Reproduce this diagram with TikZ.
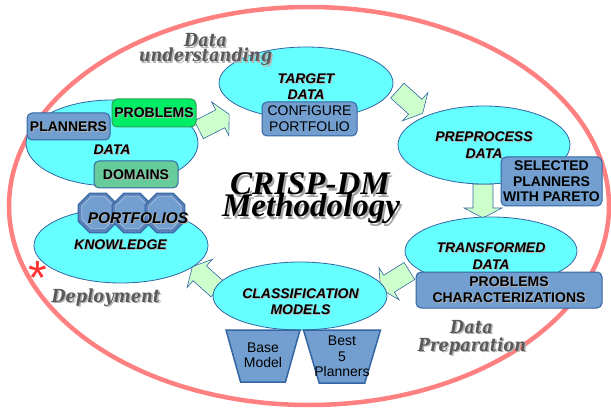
\documentclass[tikz,border=0pt]{standalone}
\usepackage{fontspec}
\setmainfont{Liberation Sans}
\newfontfamily\titlefont{Liberation Serif}
\newfontfamily\phasefont{DejaVu Serif}[FakeStretch=0.9]
\usetikzlibrary{shapes.geometric}

\definecolor{ringred}{HTML}{FF8080}
\definecolor{stagecyan}{HTML}{66FFFF}
\definecolor{edgeblue}{HTML}{3465A4}
\definecolor{boxblue}{HTML}{729FCF}
\definecolor{flowgreen}{HTML}{CCFFCC}
\definecolor{problemgreen}{HTML}{00EE66}
\definecolor{problemedge}{HTML}{2E9E55}
\definecolor{domaingreen}{HTML}{66CC99}
\definecolor{octadark}{HTML}{5A82B8}
\definecolor{octalight}{HTML}{A8C3E3}
\definecolor{phasegrey}{HTML}{5A5A5A}
\definecolor{phaseshadow}{HTML}{B4B4B4}
\definecolor{starred}{HTML}{FF3333}

% text with a soft drop shadow: [offset]{shadow colour}{text}
\newcommand{\shadowed}[3][1pt]{\leavevmode\rlap{\kern#1\smash{\raisebox{-#1}{\color{#2}#3}}}#3}

\begin{document}
\begin{tikzpicture}[x=1pt,y=-1pt,
  stage/.style={ellipse, draw=edgeblue, fill=stagecyan, line width=0.8pt, inner sep=0},
  stagetext/.style={align=center, inner sep=0, font=\fontsize{14}{16.5}\selectfont\bfseries\itshape},
  infobox/.style={rounded corners=5pt, draw=edgeblue, fill=boxblue, line width=1pt, inner sep=0, align=center, font=\fontsize{14}{16}\selectfont\bfseries},
  octa/.style={regular polygon, regular polygon sides=8, inner sep=0},
  model/.style={trapezium, trapezium stretches=true, shape border rotate=180, draw=edgeblue, fill=boxblue, line width=1.5pt, inner sep=2pt},
  modeltext/.style={align=center, inner sep=0, font=\fontsize{14}{15.5}\selectfont},
  titletext/.style={inner sep=0, anchor=base, font=\titlefont\fontsize{33}{33}\selectfont\bfseries\itshape},
  phase/.style={inner sep=0, anchor=base, text=phasegrey, font=\phasefont\fontsize{18}{20}\selectfont\bfseries\itshape},
  flow/.pic={\draw[edgeblue, fill=flowgreen, line width=0.6pt] (-17,-10) -- (7,-10) -- (7,-19) -- (17,0) -- (7,19) -- (7,10) -- (-17,10) -- cycle;}]
\useasboundingbox (0,0) rectangle (611,409);

\node[ellipse, draw=ringred, line width=4.5pt, minimum width=600pt, minimum height=398pt] (ring) at (309,206) {};

% arrows between the phases
\pic[rotate=27] (toTarget) at (214,122) {flow};
\pic[rotate=-42] (toPrep) at (410,102) {flow};
\pic[rotate=-90] (toTrans) at (483,201) {flow};
\pic[rotate=212] (toClassif) at (395,280) {flow};
\pic[rotate=138] (toKnow) at (205,278) {flow};

\node[stage, minimum width=172pt, minimum height=86pt] (data) at (112,143) {};
\node[stage, minimum width=174pt, minimum height=72pt] (target) at (306,83) {};
\node[stage, minimum width=172pt, minimum height=78pt] (prep) at (484,145) {};
\node[stage, minimum width=172pt, minimum height=68pt] (trans) at (491,251) {};
\node[stage, minimum width=174pt, minimum height=68pt] (classif) at (300,296) {};
\node[stage, minimum width=174pt, minimum height=75pt] (know) at (121,245.5) {};

\node[stagetext] (datalbl) at (112,150) {\shadowed{gray!60}{DATA}};
\node[stagetext] (targetlbl) at (306,86.5) {\shadowed{gray!60}{TARGET}\\\shadowed{gray!60}{DATA}};
\node[stagetext] (preplbl) at (484,145) {\shadowed{gray!60}{PREPROCESS}\\\shadowed{gray!60}{DATA}};
\node[stagetext] (translbl) at (491,256) {\shadowed{gray!60}{TRANSFORMED}\\\shadowed{gray!60}{DATA}};
\node[stagetext] (classiflbl) at (300.5,301.5) {\shadowed{gray!60}{CLASSIFICATION}\\\shadowed{gray!60}{MODELS}};
\node[stagetext] (knowlbl) at (120.5,245) {\shadowed{gray!60}{KNOWLEDGE}};

% portfolio octagons
\foreach \i/\x in {1/98,2/132,3/165}{
  \node[octa, minimum size=43pt, draw=edgeblue, fill=octadark, line width=1pt] (oct\i) at (\x,213) {};
  \node[octa, minimum size=35pt, draw=octalight, fill=boxblue, line width=0.8pt] (octin\i) at (\x,212.5) {};
}
\node[stagetext, font=\fontsize{15.5}{16}\selectfont\bfseries\itshape] (portlbl) at (138,218) {\shadowed{gray!60}{PORTFOLIOS}};

\node[infobox, minimum width=83pt, minimum height=27pt] (planners) at (68.5,126.5) {\shadowed{gray!60}{PLANNERS}};
\node[infobox, fill=problemgreen, draw=problemedge, minimum width=84pt, minimum height=28pt] (problems) at (154,113) {\shadowed{gray!60}{PROBLEMS}};
\node[infobox, fill=domaingreen, minimum width=84pt, minimum height=27pt] (domains) at (136,174.5) {\shadowed{gray!60}{DOMAINS}};
\node[infobox, font=\fontsize{14}{16}\selectfont, minimum width=95pt, minimum height=34pt] (config) at (309.5,119) {CONFIGURE\\PORTFOLIO};
\node[infobox, font=\fontsize{14}{15.5}\selectfont\bfseries, minimum width=101pt, minimum height=49pt] (pareto) at (551.5,181.5) {SELECTED\\PLANNERS\\WITH PARETO};
\node[infobox, minimum width=186pt, minimum height=36pt] (charact) at (509,290) {\shadowed{gray!60}{PROBLEMS}\\\shadowed{gray!60}{CHARACTERIZATIONS}};

\node[model, trapezium angle=72, minimum width=74pt, minimum height=52pt] (basemodel) at (263,356) {};
\node[model, trapezium angle=71, minimum width=77pt, minimum height=53pt] (bestmodel) at (342,356.5) {};
\node[modeltext] (basetxt) at (263,355.5) {Base\\Model};
\node[modeltext] (besttxt) at (342,356.5) {Best\\5\\Planners};

\node[titletext] (crisp) at (310,195) {\shadowed[2pt]{gray!70}{CRISP-DM}};
\node[titletext] (method) at (311,217) {\shadowed[2pt]{gray!70}{Methodology}};

\node[phase] (understand) at (205.5,47) {\shadowed[1.5pt]{phaseshadow}{Data}};
\node[phase] (understand2) at (205.5,62) {\shadowed[1.5pt]{phaseshadow}{understanding}};
\node[phase] (deploy) at (106,302) {\shadowed[1.5pt]{phaseshadow}{Deployment}};
\node[phase] (preparation) at (471.5,333) {\shadowed[1.5pt]{phaseshadow}{Data}};
\node[phase] (preparation2) at (472,351) {\shadowed[1.5pt]{phaseshadow}{Preparation}};

\node[inner sep=0, anchor=north, text=starred, font=\fontsize{48}{48}\selectfont] (star) at (38,261) {*};
\end{tikzpicture}
\end{document}
